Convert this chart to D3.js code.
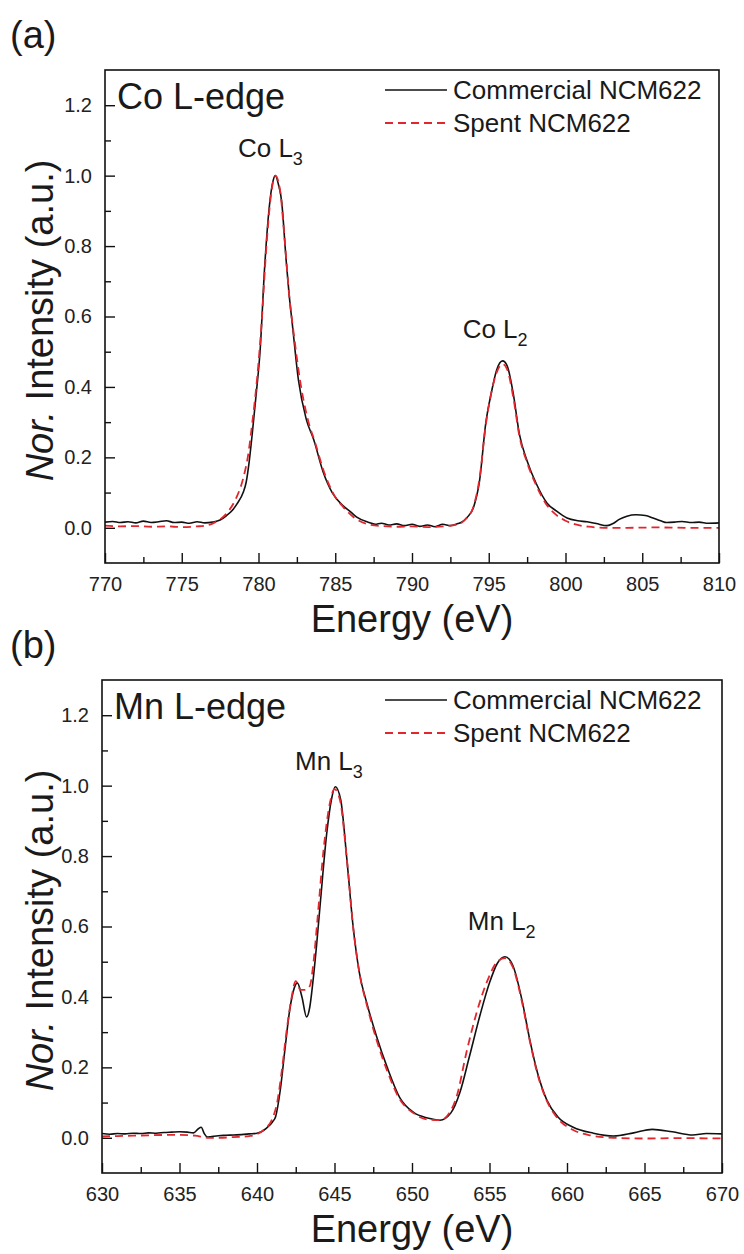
<!DOCTYPE html>
<html>
<head>
<meta charset="utf-8">
<script src="https://cdn.jsdelivr.net/npm/d3@7"></script>
<style>
  html, body { margin: 0; padding: 0; background: #fff; }
  svg { display: block; font-family: "Liberation Sans", Arial, sans-serif; }
</style>
</head>
<body>
<svg id="chart" width="744" height="1254"></svg>
<script>
// ---- Co L-edge spectra ----
const coCommercialEnergy = [770.0,770.5,771.0,771.5,772.0,772.5,773.0,773.5,774.0,774.5,775.0,775.5,776.0,776.5,777.0,777.5,777.9,778.3,778.6,779.0,779.2,779.4,779.6,779.85,780.1,780.4,780.7,780.9,781.1,781.3,781.5,781.8,782.0,782.2,782.6,783.1,783.6,784.2,784.8,785.5,786.0,786.4,787.2,787.6,788.0,788.5,789.0,789.5,790.0,790.5,791.0,791.5,792.0,792.5,793.0,793.2,793.6,794.0,794.4,794.8,795.2,795.5,795.9,796.2,796.6,797.0,797.5,798.1,798.8,799.4,800.1,800.8,801.4,802.0,802.7,803.1,803.5,804.0,804.6,805.2,805.7,806.2,806.6,807.1,807.6,808.2,808.7,809.3,810.0];
const coCommercial = [0.016,0.018,0.015,0.017,0.014,0.019,0.015,0.017,0.020,0.015,0.016,0.013,0.017,0.014,0.016,0.022,0.034,0.050,0.068,0.100,0.130,0.190,0.270,0.380,0.500,0.740,0.910,0.975,1.000,0.975,0.930,0.760,0.660,0.580,0.420,0.310,0.250,0.160,0.100,0.063,0.045,0.030,0.015,0.010,0.013,0.008,0.011,0.006,0.010,0.004,0.008,0.003,0.010,0.006,0.012,0.015,0.030,0.057,0.133,0.295,0.390,0.446,0.474,0.460,0.380,0.265,0.190,0.125,0.070,0.048,0.028,0.020,0.017,0.012,0.006,0.012,0.024,0.033,0.037,0.035,0.028,0.020,0.015,0.016,0.018,0.015,0.016,0.013,0.014];

const coSpentEnergy = [770.0,771.0,772.0,773.0,774.0,775.0,776.0,776.5,777.0,777.5,778.0,778.5,779.0,779.3,779.6,779.9,780.2,780.5,780.8,781.1,781.4,781.7,782.0,782.3,782.7,783.2,783.7,784.3,784.9,785.5,786.2,787.0,788.0,789.0,790.0,791.0,792.0,793.0,793.5,794.0,794.4,794.8,795.2,795.6,795.9,796.2,796.6,797.0,797.5,798.1,798.7,799.3,800.0,800.8,801.5,802.5,804.0,806.0,808.0,810.0];
const coSpent = [0.006,0.004,0.005,0.003,0.004,0.002,0.004,0.006,0.012,0.024,0.045,0.080,0.140,0.200,0.300,0.420,0.580,0.790,0.940,1.000,0.960,0.820,0.660,0.550,0.420,0.310,0.240,0.155,0.095,0.060,0.030,0.012,0.005,0.003,0.004,0.002,0.004,0.010,0.025,0.060,0.140,0.290,0.390,0.450,0.465,0.450,0.370,0.260,0.185,0.120,0.070,0.040,0.020,0.008,0.003,0.000,0.000,0.001,0.000,0.000];

// ---- Mn L-edge spectra ----
const mnCommercialEnergy = [630.0,630.5,631.0,631.5,632.0,632.5,633.0,633.5,634.0,634.5,635.0,635.5,635.9,636.2,636.4,636.6,636.8,637.0,637.5,638.0,638.5,639.0,639.5,640.0,640.6,641.0,641.2,641.5,641.8,642.1,642.4,642.6,642.9,643.2,643.4,643.6,643.85,644.1,644.5,644.8,645.05,645.4,645.8,646.2,646.6,647.1,647.7,648.4,649.2,650.1,651.0,651.8,652.5,653.1,653.7,654.4,655.0,655.5,656.0,656.5,657.1,657.6,658.1,658.7,659.4,660.4,661.7,663.0,664.3,665.5,666.8,668.1,669.0,670.0];
const mnCommercial = [0.012,0.010,0.012,0.011,0.013,0.012,0.014,0.013,0.015,0.016,0.017,0.016,0.014,0.025,0.030,0.012,0.002,0.003,0.006,0.007,0.008,0.009,0.011,0.013,0.027,0.045,0.060,0.135,0.250,0.360,0.425,0.440,0.400,0.343,0.370,0.440,0.550,0.675,0.865,0.960,0.997,0.960,0.790,0.600,0.470,0.380,0.290,0.200,0.115,0.072,0.056,0.050,0.070,0.130,0.230,0.350,0.440,0.495,0.514,0.490,0.390,0.278,0.184,0.107,0.060,0.030,0.013,0.005,0.014,0.024,0.017,0.008,0.012,0.011];

const mnSpentEnergy = [630.0,631.0,632.0,633.0,634.0,635.0,636.0,636.8,637.5,638.5,639.5,640.0,640.5,641.0,641.3,641.6,641.9,642.2,642.5,642.8,643.1,643.4,643.65,643.9,644.3,644.7,645.0,645.35,645.8,646.2,646.6,647.1,647.7,648.4,649.2,650.1,651.0,651.8,652.4,652.9,653.5,654.2,654.9,655.5,656.0,656.5,657.1,657.6,658.1,658.7,659.4,660.4,661.5,663.0,665.0,667.0,670.0];
const mnSpent = [0.004,0.005,0.006,0.007,0.008,0.008,0.006,0.000,0.000,0.002,0.005,0.010,0.025,0.055,0.100,0.190,0.300,0.390,0.445,0.420,0.420,0.430,0.500,0.620,0.820,0.950,0.990,0.960,0.790,0.600,0.470,0.375,0.280,0.190,0.110,0.070,0.052,0.050,0.070,0.120,0.240,0.360,0.450,0.500,0.510,0.485,0.385,0.275,0.180,0.105,0.055,0.022,0.007,0.000,-0.002,-0.001,-0.002];

// ---- axes ----
const coTicks = [770,775,780,785,790,795,800,805,810];
const mnTicks = [630,635,640,645,650,655,660,665,670];
const intensityTicks = [0.0,0.2,0.4,0.6,0.8,1.0,1.2];
const intensityDomain = [-0.1, 1.3];

const seriesNames = ["Commercial NCM622", "Spent NCM622"];

const BLACK = "#111";
const RED = "#e2262d";
const DASH = "8,5";

const panels = [
  {
    letter: "(a)", letterY: 48,
    title: "Co L-edge",
    left: 105, right: 719, top: 70, bottom: 563,
    xDomain: [770, 810], xTicks: coTicks,
    commercial: [coCommercialEnergy, coCommercial],
    spent: [coSpentEnergy, coSpent],
    peaks: [
      { main: "Co L", sub: "3", at: [778.66, 1.053] },
      { main: "Co L", sub: "2", at: [793.3, 0.54] }
    ]
  },
  {
    letter: "(b)", letterY: 658,
    title: "Mn L-edge",
    left: 102, right: 722, top: 680, bottom: 1173,
    xDomain: [630, 670], xTicks: mnTicks,
    commercial: [mnCommercialEnergy, mnCommercial],
    spent: [mnSpentEnergy, mnSpent],
    peaks: [
      { main: "Mn L", sub: "3", at: [642.45, 1.044] },
      { main: "Mn L", sub: "2", at: [653.6, 0.59] }
    ]
  }
];

const svg = d3.select("#chart");

function range(a, b, step) {
  const out = [];
  for (let v = a; v <= b + 1e-9; v += step) out.push(+v.toFixed(4));
  return out;
}

panels.forEach(p => {
  const x = d3.scaleLinear().domain(p.xDomain).range([p.left, p.right]);
  const y = d3.scaleLinear().domain(intensityDomain).range([p.bottom, p.top]);
  const g = svg.append("g");

  // panel letter
  g.append("text")
    .attr("x", 10).attr("y", p.letterY)
    .attr("font-size", 38).attr("fill", "#1a1a1a")
    .text(p.letter);

  // clip for the spectra
  const clipId = "clip" + p.letter.replace(/\W/g, "");
  svg.append("clipPath").attr("id", clipId)
    .append("rect")
    .attr("x", p.left).attr("y", p.top)
    .attr("width", p.right - p.left).attr("height", p.bottom - p.top);

  const line = d3.line()
    .x(d => x(d[0])).y(d => y(d[1]))
    .curve(d3.curveMonotoneX);

  const zipSeries = s => s[0].map((e, i) => [e, s[1][i]]);

  const plot = g.append("g").attr("clip-path", `url(#${clipId})`);
  plot.append("path")
    .datum(zipSeries(p.commercial))
    .attr("d", line)
    .attr("fill", "none").attr("stroke", BLACK)
    .attr("stroke-width", 1.6).attr("stroke-linejoin", "round");
  plot.append("path")
    .datum(zipSeries(p.spent))
    .attr("d", line)
    .attr("fill", "none").attr("stroke", RED)
    .attr("stroke-width", 1.8).attr("stroke-dasharray", DASH);

  // x axis: major ticks with labels, minor ticks between
  const xMinor = range(p.xDomain[0] + 2.5, p.xDomain[1], 5);
  const xAxis = g.append("g").attr("transform", `translate(0,${p.bottom})`)
    .call(d3.axisBottom(x).tickValues(p.xTicks).tickSize(-10).tickPadding(14)
      .tickFormat(d3.format("d")));
  const xMinorAxis = g.append("g").attr("transform", `translate(0,${p.bottom})`)
    .call(d3.axisBottom(x).tickValues(xMinor).tickSize(-6).tickFormat(""));

  // y axis
  const yMinor = range(0.1, 1.1, 0.2);
  const yAxis = g.append("g").attr("transform", `translate(${p.left},0)`)
    .call(d3.axisLeft(y).tickValues(intensityTicks).tickSize(-10).tickPadding(13)
      .tickFormat(d3.format(".1f")));
  const yMinorAxis = g.append("g").attr("transform", `translate(${p.left},0)`)
    .call(d3.axisLeft(y).tickValues(yMinor).tickSize(-6).tickFormat(""));

  [xAxis, xMinorAxis, yAxis, yMinorAxis].forEach(a => {
    a.select(".domain").remove();
    a.selectAll(".tick line").attr("stroke", "#111").attr("stroke-width", 1.4);
    a.selectAll(".tick text")
      .attr("font-size", 20).attr("fill", "#222")
      .attr("font-family", "'Liberation Sans', Arial, sans-serif");
  });

  // frame
  g.append("rect")
    .attr("x", p.left).attr("y", p.top)
    .attr("width", p.right - p.left).attr("height", p.bottom - p.top)
    .attr("fill", "none").attr("stroke", "#111").attr("stroke-width", 1.6);

  // axis titles
  g.append("text")
    .attr("x", (p.left + p.right) / 2).attr("y", p.bottom + 69)
    .attr("text-anchor", "middle").attr("font-size", 38).attr("fill", "#1a1a1a")
    .text("Energy (eV)");

  const cy = (p.top + p.bottom) / 2 + 4;
  const yTitle = g.append("text")
    .attr("transform", `translate(53,${cy}) rotate(-90)`)
    .attr("text-anchor", "middle").attr("font-size", 38).attr("fill", "#1a1a1a");
  yTitle.append("tspan").attr("font-style", "italic").text("Nor.");
  yTitle.append("tspan").text(" Intensity (a.u.)");

  // element title
  g.append("text")
    .attr("x", p.left + 12).attr("y", p.top + 39)
    .attr("font-size", 36).attr("fill", "#1a1a1a")
    .text(p.title);

  // peak labels
  p.peaks.forEach(pk => {
    const t = g.append("text")
      .attr("x", x(pk.at[0])).attr("y", y(pk.at[1]))
      .attr("font-size", 26).attr("fill", "#1a1a1a");
    t.append("tspan").text(pk.main);
    t.append("tspan").attr("font-size", 18).attr("dy", 8).text(pk.sub);
  });

  // legend
  const legendX = 385, legendLen = 62;
  const legendY = [p.top + 20, p.top + 53];
  const legendStyles = [
    { stroke: BLACK, width: 1.6, dash: null },
    { stroke: RED, width: 1.8, dash: DASH }
  ];
  seriesNames.forEach((name, i) => {
    g.append("line")
      .attr("x1", legendX).attr("x2", legendX + legendLen)
      .attr("y1", legendY[i]).attr("y2", legendY[i])
      .attr("stroke", legendStyles[i].stroke)
      .attr("stroke-width", legendStyles[i].width)
      .attr("stroke-dasharray", legendStyles[i].dash);
    g.append("text")
      .attr("x", legendX + legendLen + 6).attr("y", legendY[i])
      .attr("dy", "0.36em")
      .attr("font-size", 26).attr("fill", "#1a1a1a")
      .text(name);
  });
});
</script>
</body>
</html>
